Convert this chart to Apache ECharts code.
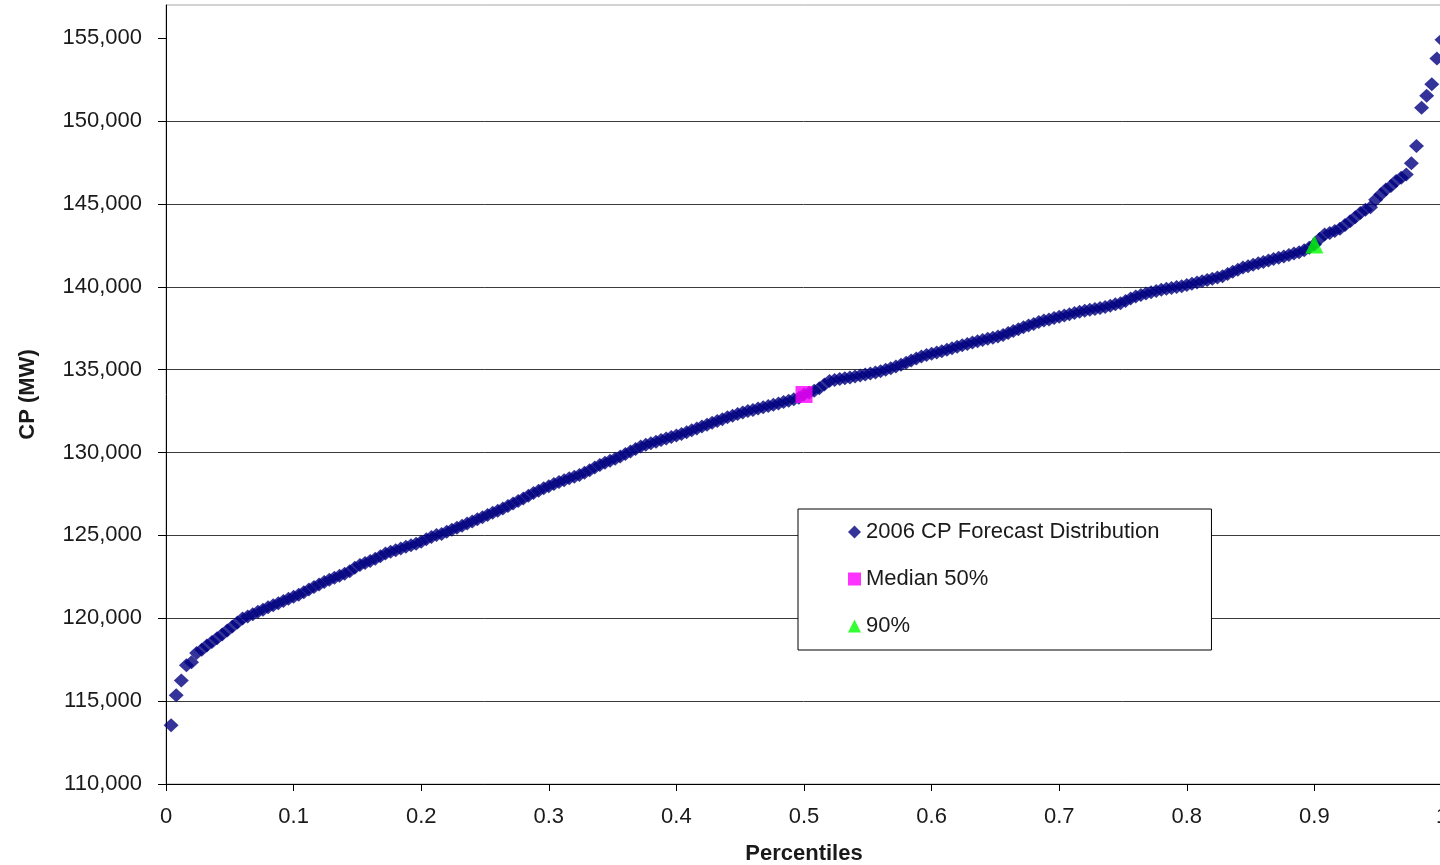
<!DOCTYPE html>
<html>
<head>
<meta charset="utf-8">
<title>2006 CP Forecast Distribution</title>
<script src="https://cdn.jsdelivr.net/npm/echarts@6/dist/echarts.min.js"></script>
<style>
  html, body { margin: 0; padding: 0; background: #ffffff; }
  #chart { width: 1440px; height: 865px; }
</style>
</head>
<body>
<div id="chart"></div>
<script>
// ---- Data ----
const percentiles = [
  0.004,0.008,0.012,0.016,0.020,0.024,0.028,0.032,0.036,0.040,0.044,0.048,0.052,0.056,0.060,0.064,0.068,0.072,0.076,0.080,0.084,0.088,0.092,0.096,0.100,
  0.104,0.108,0.112,0.116,0.120,0.124,0.128,0.132,0.136,0.140,0.144,0.148,0.152,0.156,0.160,0.164,0.168,0.172,0.176,0.180,0.184,0.188,0.192,0.196,0.200,
  0.204,0.208,0.212,0.216,0.220,0.224,0.228,0.232,0.236,0.240,0.244,0.248,0.252,0.256,0.260,0.264,0.268,0.272,0.276,0.280,0.284,0.288,0.292,0.296,0.300,
  0.304,0.308,0.312,0.316,0.320,0.324,0.328,0.332,0.336,0.340,0.344,0.348,0.352,0.356,0.360,0.364,0.368,0.372,0.376,0.380,0.384,0.388,0.392,0.396,0.400,
  0.404,0.408,0.412,0.416,0.420,0.424,0.428,0.432,0.436,0.440,0.444,0.448,0.452,0.456,0.460,0.464,0.468,0.472,0.476,0.480,0.484,0.488,0.492,0.496,0.500,
  0.504,0.508,0.512,0.516,0.520,0.524,0.528,0.532,0.536,0.540,0.544,0.548,0.552,0.556,0.560,0.564,0.568,0.572,0.576,0.580,0.584,0.588,0.592,0.596,0.600,
  0.604,0.608,0.612,0.616,0.620,0.624,0.628,0.632,0.636,0.640,0.644,0.648,0.652,0.656,0.660,0.664,0.668,0.672,0.676,0.680,0.684,0.688,0.692,0.696,0.700,
  0.704,0.708,0.712,0.716,0.720,0.724,0.728,0.732,0.736,0.740,0.744,0.748,0.752,0.756,0.760,0.764,0.768,0.772,0.776,0.780,0.784,0.788,0.792,0.796,0.800,
  0.804,0.808,0.812,0.816,0.820,0.824,0.828,0.832,0.836,0.840,0.844,0.848,0.852,0.856,0.860,0.864,0.868,0.872,0.876,0.880,0.884,0.888,0.892,0.896,0.900,
  0.904,0.908,0.912,0.916,0.920,0.924,0.928,0.932,0.936,0.940,0.944,0.948,0.952,0.956,0.960,0.964,0.968,0.972,0.976,0.980,0.984,0.988,0.992,0.996,1.000
];

const cpValues = [
  113540,115350,116240,117160,117340,117910,118100,118360,118570,118800,119020,119260,119500,119740,119980,120100,120240,120390,120520,120660,120790,120910,121040,121170,121290,
  121420,121570,121730,121880,122030,122190,122320,122440,122560,122680,122840,123050,123210,123330,123460,123590,123740,123900,124010,124110,124210,124310,124400,124490,124620,
  124760,124900,125030,125090,125220,125340,125460,125580,125710,125840,125970,126100,126230,126360,126490,126620,126780,126930,127080,127230,127390,127550,127700,127840,127970,
  128100,128220,128330,128440,128540,128640,128780,128930,129090,129240,129380,129510,129630,129760,129910,130060,130210,130370,130470,130560,130650,130750,130840,130930,131020,
  131110,131220,131340,131450,131570,131680,131790,131900,132010,132120,132220,132320,132420,132500,132570,132650,132730,132800,132880,132960,133040,133130,133220,133310,133500,
  133600,133720,133880,134110,134310,134370,134430,134480,134530,134580,134640,134700,134760,134830,134900,134990,135090,135190,135300,135420,135550,135670,135800,135880,135960,
  136030,136110,136200,136290,136380,136470,136550,136630,136710,136790,136860,136930,137000,137090,137210,137330,137440,137560,137660,137760,137870,137960,138030,138110,138190,
  138260,138340,138420,138490,138560,138610,138660,138720,138780,138860,138940,139010,139140,139290,139410,139510,139600,139670,139750,139820,139880,139930,139980,140030,140110,
  140180,140260,140340,140410,140490,140560,140640,140770,140900,141030,141160,141240,141330,141420,141500,141580,141670,141750,141830,141910,142000,142080,142210,142350,142550,
  142880,143150,143250,143370,143500,143720,143950,144200,144450,144650,144800,145250,145560,145870,146080,146380,146580,146780,147450,148490,150800,151530,152220,153770,154900
];

const seriesNames = ['2006 CP Forecast Distribution', 'Median 50%', '90%'];
const medianPoint = [0.5, 133500];
const p90Point = [0.9, 142550];

const xTickValues = [0, 0.1, 0.2, 0.3, 0.4, 0.5, 0.6, 0.7, 0.8, 0.9, 1];
const yTickValues = [110000, 115000, 120000, 125000, 130000, 135000, 140000, 145000, 150000, 155000];
const yAxisMin = 110000;
const yAxisMax = 157000;
const yAxisStep = 5000;

// ---- Chart ----
const FONT = '"Liberation Sans", Arial, Helvetica, sans-serif';
const TEXT_COLOR = '#1a1a1a';

const chart = echarts.init(document.getElementById('chart'), null, { renderer: 'canvas' });

const mainData = percentiles.map((p, i) => [p, cpValues[i]]);

const option = {
  animation: false,
  backgroundColor: '#ffffff',
  textStyle: { fontFamily: FONT, color: TEXT_COLOR },
  grid: {
    left: 166,
    top: 5,
    right: -2,
    bottom: 81,
    outerBoundsMode: 'none',
    containLabel: false,
    show: true,
    borderColor: '#a6a6a6',
    borderWidth: 1,
    backgroundColor: 'transparent'
  },
  xAxis: {
    type: 'value',
    min: 0,
    max: 1,
    interval: 0.1,
    name: 'Percentiles',
    nameLocation: 'middle',
    nameGap: 59,
    nameTextStyle: { fontFamily: FONT, fontSize: 22, fontWeight: 'bold', color: TEXT_COLOR },
    axisLine: { show: true, onZero: false, lineStyle: { color: '#000000', width: 1 } },
    axisTick: { show: true, inside: false, length: 7, lineStyle: { color: '#000000', width: 1 } },
    axisLabel: {
      fontFamily: FONT, fontSize: 22, color: TEXT_COLOR, margin: 22,
      formatter: function (v) { return String(Math.round(v * 10) / 10); }
    },
    splitLine: { show: false }
  },
  yAxis: {
    type: 'value',
    min: yAxisMin,
    max: yAxisMax,
    interval: yAxisStep,
    name: 'CP (MW)',
    nameLocation: 'middle',
    nameRotate: 90,
    nameGap: 127,
    nameTextStyle: { fontFamily: FONT, fontSize: 22, fontWeight: 'bold', color: TEXT_COLOR },
    axisLine: { show: true, onZero: false, lineStyle: { color: '#000000', width: 1 } },
    axisTick: { show: true, inside: false, length: 8, customValues: yTickValues, lineStyle: { color: '#000000', width: 1 } },
    axisLabel: {
      fontFamily: FONT, fontSize: 22, color: TEXT_COLOR, margin: 24,
      customValues: yTickValues,
      formatter: function (v) { return Number(v).toLocaleString('en-US'); }
    },
    splitLine: { show: true, showMaxLine: false, lineStyle: { color: '#3a3a3a', width: 1 } }
  },
  legend: {
    orient: 'vertical',
    left: 798,
    top: 509,
    padding: [12, 52, 13, 50],
    itemGap: 25,
    itemWidth: 13,
    itemHeight: 13,
    backgroundColor: '#ffffff',
    borderColor: '#000000',
    borderWidth: 1,
    textStyle: { fontFamily: FONT, fontSize: 22, color: TEXT_COLOR },
    data: [
      { name: seriesNames[0], icon: 'diamond' },
      { name: seriesNames[1], icon: 'rect' },
      { name: seriesNames[2], icon: 'triangle' }
    ]
  },
  series: [
    {
      name: seriesNames[0],
      type: 'scatter',
      data: mainData,
      symbol: 'diamond',
      symbolSize: [15, 14],
      itemStyle: { color: '#000080' },
      z: 2
    },
    {
      name: seriesNames[1],
      type: 'scatter',
      data: [medianPoint],
      symbol: 'rect',
      symbolSize: 17,
      itemStyle: { color: '#ff00ff' },
      z: 3
    },
    {
      name: seriesNames[2],
      type: 'scatter',
      data: [p90Point],
      symbol: 'triangle',
      symbolSize: 18,
      itemStyle: { color: '#00ff00' },
      z: 3
    }
  ]
};

chart.setOption(option);
</script>
</body>
</html>
